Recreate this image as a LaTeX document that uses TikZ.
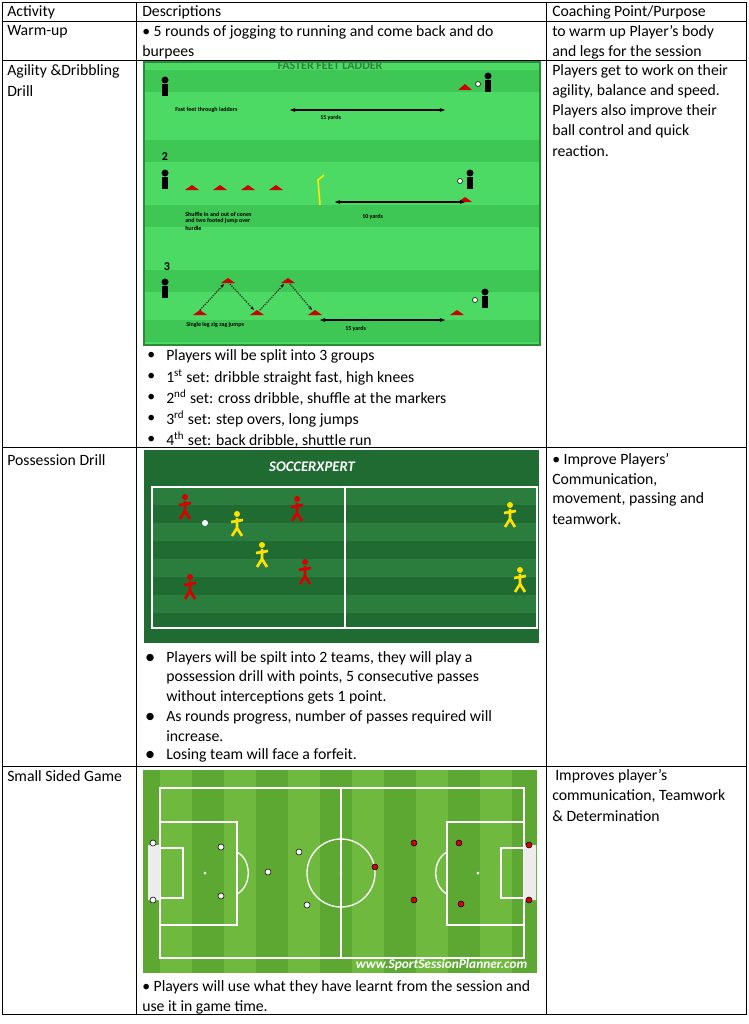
\documentclass[tikz,border=0pt]{standalone}
\usepackage{fontspec}
\setmainfont{Carlito}
\usetikzlibrary{positioning,arrows.meta}
\definecolor{agigreen}{HTML}{4CD964}
\definecolor{agistripe}{HTML}{3EC755}
\definecolor{posgreen}{HTML}{1F6B32}
\definecolor{posstripe}{HTML}{2A7D3D}
\definecolor{pitchgreen}{HTML}{5DA832}
\definecolor{pitchstripe}{HTML}{6FBA3E}
\begin{document}
\begin{tikzpicture}[x=0.75pt,y=-0.75pt,
txt/.style={anchor=west, inner sep=0pt, font=\fontsize{11.8}{13}\selectfont},
tiny/.style={anchor=west, inner sep=0pt, font=\fontsize{4.5}{5}\selectfont\bfseries},
grid/.style={line width=0.6pt},
cone/.style={fill=red!80!black},
]
\useasboundingbox (0,0) rectangle (749,1024);
\fill[white] (0,0) rectangle (749,1024);
%Table
\draw[grid] (2,2) rectangle (746,1014);
\foreach \y in {21,60,447,766} \draw[grid] (2,\y) -- (746,\y);
\foreach \x in {136,546} \draw[grid] (\x,2) -- (\x,1014);
%Header
\node[txt] (hact) at (7,12) {Activity};
\node[txt] (hdesc) at (142,12) {Descriptions};
\node[txt] (hcoach) at (552,12) {Coaching Point/Purpose};
%Warm-up
\node[txt] (warm) at (7,32) {Warm-up};
\node[txt] (warmd1) at (142,32) {• 5 rounds of jogging to running and come back and do};
\node[txt] (warmd2) at (142,52) {burpees};
\node[txt] (warmc1) at (552,32) {to warm up Player’s body};
\node[txt] (warmc2) at (552,52) {and legs for the session};
%Agility
\node[txt] (agi1) at (7,71) {Agility \&Dribbling};
\node[txt] (agi2) at (7,91) {Drill};
\node[txt] (agic1) at (552,71) {Players get to work on their};
\node[txt] (agic2) at (552,91) {agility, balance and speed.};
\node[txt] (agic3) at (552,111) {Players also improve their};
\node[txt] (agic4) at (552,131) {ball control and quick};
\node[txt] (agic5) at (552,151) {reaction.};
\fill[agigreen] (144,62) rectangle (540,345);
\foreach \y in {70,140,205,270,320} \fill[agistripe] (144,\y) rectangle (540,\y+22);
\draw[agistripe!70!black, line width=1pt] (144,62) rectangle (540,345);
\node[font=\fontsize{9}{9}\selectfont\bfseries, text=black!40!agigreen] (ladder) at (330,66) {FASTER FEET LADDER};
\foreach \x/\y in {165/94, 165/187, 165/296} {\fill[black] (\x,\y-14) circle (3.5); \fill[black] (\x-3,\y-10) rectangle (\x+3,\y+2);}
\foreach \x/\y in {488/78, 470/175, 485/294} {\fill[black] (\x,\y-2) circle (3.5); \fill[black] (\x-3,\y+2) rectangle (\x+3,\y+14); \fill[white,draw=black] (\x-10,\y+6) circle (2.5);}
\fill[cone] (458,90) -- (465,84) -- (472,90) -- cycle;
\foreach \x in {192,220,248,276} \fill[cone] (\x-7,190) -- (\x,185) -- (\x+7,190) -- cycle;
\fill[cone] (458,202) -- (465,197) -- (472,202) -- cycle;
\fill[cone] (450,315) -- (457,310) -- (464,315) -- cycle;
\draw[yellow!90!orange, line width=1.2pt] (320,205) -- (318,180) -- (324,175);
\foreach \x/\y in {200/315, 228/283, 257/315, 288/283, 315/315} \fill[cone] (\x-7,\y) -- (\x,\y-5) -- (\x+7,\y) -- cycle;
\draw[densely dotted, -{Stealth[length=3pt]}, thick] (200,310) -- (224,284);
\draw[densely dotted, -{Stealth[length=3pt]}, thick] (230,284) -- (254,310);
\draw[densely dotted, -{Stealth[length=3pt]}, thick] (260,310) -- (284,284);
\draw[densely dotted, -{Stealth[length=3pt]}, thick] (290,284) -- (312,310);
\coordinate (a1) at (290,110); \coordinate (a2) at (445,110);
\draw[{Stealth[length=4pt]}-{Stealth[length=4pt]}, thick] (a1) -- (a2);
\coordinate (b1) at (335,202); \coordinate (b2) at (465,202);
\draw[{Stealth[length=4pt]}-{Stealth[length=4pt]}, thick] (b1) -- (b2);
\coordinate (c1) at (320,320); \coordinate (c2) at (445,320);
\draw[{Stealth[length=4pt]}-{Stealth[length=4pt]}, thick] (c1) -- (c2);
\node[tiny] (lab1) at (175,110) {Fast feet through ladders};
\node[tiny] (yd1) at (320,118) {15 yards};
\node[font=\fontsize{9}{9}\selectfont\bfseries] (num2) at (165,157) {2};
\node[tiny] (lab2a) at (185,214) {Shuffle in and out of cones};
\node[tiny] (lab2b) at (185,221) {and two footed jump over};
\node[tiny] (lab2c) at (185,228) {hurdle};
\node[tiny] (yd2) at (362,217) {10 yards};
\node[font=\fontsize{9}{9}\selectfont\bfseries] (num3) at (167,267) {3};
\node[tiny] (lab3) at (186,325) {Single leg zig zag jumps};
\node[tiny] (yd3) at (345,329) {15 yards};
\foreach \y/\t in {356/{Players will be split into 3 groups},
377/{1\textsuperscript{st} set: dribble straight fast, high knees},
398/{2\textsuperscript{nd} set: cross dribble, shuffle at the markers},
419/{3\textsuperscript{rd} set: step overs, long jumps},
440/{4\textsuperscript{th} set: back dribble, shuttle run}}
{\node[txt] (agib\y) at (147,\y) {•}; \node[txt] (agit\y) at (166,\y) {\t};}
%Possession
\node[txt] (pos) at (7,460) {Possession Drill};
\node[txt] (posc1) at (552,460) {• Improve Players’};
\node[txt] (posc2) at (552,480) {Communication,};
\node[txt] (posc3) at (552,499) {movement, passing and};
\node[txt] (posc4) at (552,519) {teamwork.};
\fill[posgreen] (144,450) rectangle (539,643);
\foreach \y in {487,523,559,595} \fill[posstripe] (152,\y) rectangle (537,\y+18);
\node[text=white, font=\fontsize{11}{11}\selectfont\itshape\bfseries] (logo) at (312,467) {SOCCERXPERT};
\draw[white, line width=1.3pt] (152,487) rectangle (537,628);
\draw[white, line width=1.3pt] (345,487) -- (345,628);
\foreach \x/\y in {185/505, 297/507, 190/585, 305/570} {\fill[red!85!black] (\x,\y-8) circle (3); \draw[red!85!black, line width=2pt] (\x,\y-4) -- (\x,\y+6) (\x-6,\y) -- (\x+6,\y-2) (\x,\y+6) -- (\x-5,\y+14) (\x,\y+6) -- (\x+5,\y+14);}
\foreach \x/\y in {237/522, 262/553, 510/513, 520/578} {\fill[yellow!85!orange] (\x,\y-8) circle (3); \draw[yellow!85!orange, line width=2pt] (\x,\y-4) -- (\x,\y+6) (\x-6,\y) -- (\x+6,\y-2) (\x,\y+6) -- (\x-5,\y+14) (\x,\y+6) -- (\x+5,\y+14);}
\fill[white] (205,523) circle (3);
\foreach \y/\t in {658/{Players will be spilt into 2 teams, they will play a},
717/{As rounds progress, number of passes required will},
755/{Losing team will face a forfeit.}}
{\node[txt] (posb\y) at (145,\y) {●}; \node[txt] (post\y) at (166,\y) {\t};}
\node[txt] (post677) at (166,677) {possession drill with points, 5 consecutive passes};
\node[txt] (post697) at (166,697) {without interceptions gets 1 point.};
\node[txt] (post736) at (166,736) {increase.};
%Small sided game
\node[txt] (ssg) at (7,776) {Small Sided Game};
\node[txt] (ssgc1) at (555,776) {Improves player’s};
\node[txt] (ssgc2) at (552,796) {communication, Teamwork};
\node[txt] (ssgc3) at (552,816) {\& Determination};
\fill[pitchgreen] (143,770) rectangle (537,973);
\foreach \x in {160,224,288,352,416,480} \fill[pitchstripe] (\x,770) rectangle (\x+32,973);
\begin{scope}[white, line width=1pt]
\draw (160,788) rectangle (524,958);
\draw (341,788) -- (341,958);
\draw (341,873) circle (34);
\draw (160,822) rectangle (237,925) (160,848) rectangle (183,898);
\draw (524,822) rectangle (447,925) (524,848) rectangle (501,898);
\draw (237,852) .. controls (252,860) and (252,886) .. (237,894);
\draw (447,852) .. controls (432,860) and (432,886) .. (447,894);
\fill (205,873) circle (1.5) (478,873) circle (1.5) (341,873) circle (1.5);
\end{scope}
\fill[white!85!gray] (148,845) rectangle (160,900) (524,845) rectangle (536,900);
\foreach \x/\y in {153/843, 153/900, 221/847, 221/896, 268/872, 299/852, 307/905} {\fill[white,draw=black] (\x,\y) circle (3);}
\foreach \x/\y in {414/843, 414/900, 459/843, 461/904, 375/867, 529/845, 529/900} {\fill[red!85!black,draw=black] (\x,\y) circle (3);}
\node[anchor=east, text=white, font=\fontsize{10}{10}\selectfont\itshape\bfseries] (site) at (532,965) {www.SportSessionPlanner.com};
\node[txt] (ssgd1) at (142,987) {• Players will use what they have learnt from the session and};
\node[txt] (ssgd2) at (142,1007) {use it in game time.};
\end{tikzpicture}
\end{document}
